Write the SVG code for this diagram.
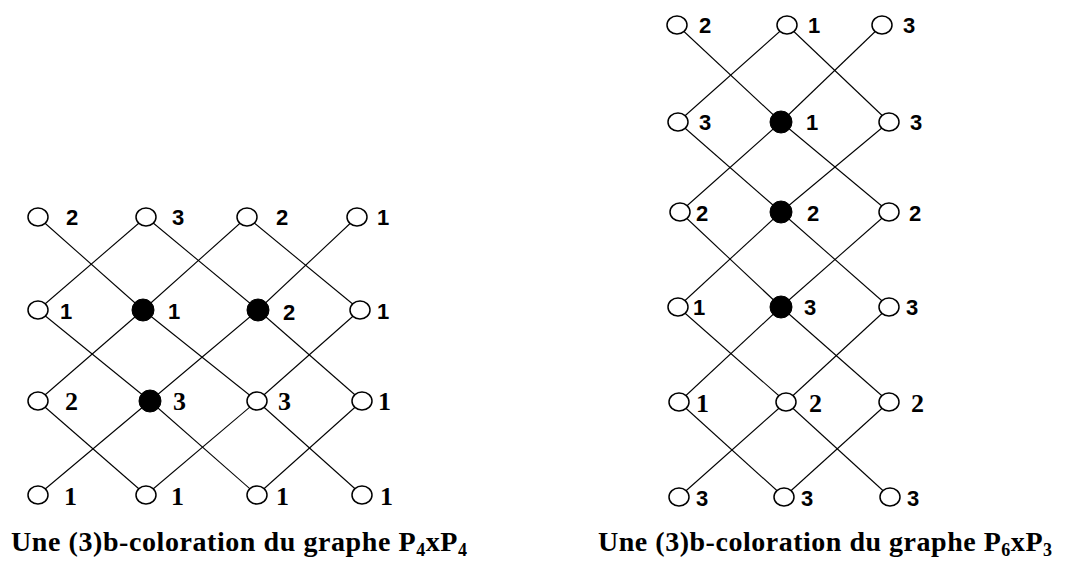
<svg xmlns="http://www.w3.org/2000/svg" width="1066" height="563" viewBox="0 0 1066 563">
<style>
.e{stroke:#000;stroke-width:1.1;fill:none}
.o{fill:#fff;stroke:#000;stroke-width:1.5}
.f{fill:#000;stroke:#000;stroke-width:1}
.ls{font-family:"Liberation Sans",Arial,sans-serif;font-weight:bold;font-size:22px;fill:#000}
.lr{font-family:"Liberation Serif","Times New Roman",serif;font-weight:bold;font-size:26px;fill:#000}
.cap{font-family:"Liberation Serif","Times New Roman",serif;font-weight:bold;font-size:28px;fill:#000}
</style>
<g id="connectors">
<line class="e" x1="38" y1="217" x2="143" y2="310"/>
<line class="e" x1="146" y1="217" x2="38" y2="310"/>
<line class="e" x1="146" y1="217" x2="258" y2="310"/>
<line class="e" x1="247" y1="217" x2="143" y2="310"/>
<line class="e" x1="247" y1="217" x2="360" y2="310"/>
<line class="e" x1="357" y1="217" x2="258" y2="310"/>
<line class="e" x1="38" y1="310" x2="150" y2="401"/>
<line class="e" x1="143" y1="310" x2="38" y2="401"/>
<line class="e" x1="143" y1="310" x2="257" y2="401"/>
<line class="e" x1="258" y1="310" x2="150" y2="401"/>
<line class="e" x1="258" y1="310" x2="362" y2="401"/>
<line class="e" x1="360" y1="310" x2="257" y2="401"/>
<line class="e" x1="38" y1="401" x2="146" y2="495"/>
<line class="e" x1="150" y1="401" x2="38" y2="495"/>
<line class="e" x1="150" y1="401" x2="257" y2="495"/>
<line class="e" x1="257" y1="401" x2="146" y2="495"/>
<line class="e" x1="257" y1="401" x2="362" y2="495"/>
<line class="e" x1="362" y1="401" x2="257" y2="495"/>
<line class="e" x1="677" y1="25" x2="781" y2="122"/>
<line class="e" x1="787" y1="25" x2="678" y2="122"/>
<line class="e" x1="787" y1="25" x2="889" y2="122"/>
<line class="e" x1="882" y1="25" x2="781" y2="122"/>
<line class="e" x1="678" y1="122" x2="781" y2="212"/>
<line class="e" x1="781" y1="122" x2="680" y2="212"/>
<line class="e" x1="781" y1="122" x2="889" y2="212"/>
<line class="e" x1="889" y1="122" x2="781" y2="212"/>
<line class="e" x1="680" y1="212" x2="781" y2="307"/>
<line class="e" x1="781" y1="212" x2="678" y2="307"/>
<line class="e" x1="781" y1="212" x2="889" y2="307"/>
<line class="e" x1="889" y1="212" x2="781" y2="307"/>
<line class="e" x1="678" y1="307" x2="786" y2="402"/>
<line class="e" x1="781" y1="307" x2="679" y2="402"/>
<line class="e" x1="781" y1="307" x2="889" y2="402"/>
<line class="e" x1="889" y1="307" x2="786" y2="402"/>
<line class="e" x1="679" y1="402" x2="784" y2="497"/>
<line class="e" x1="786" y1="402" x2="679" y2="497"/>
<line class="e" x1="786" y1="402" x2="890" y2="497"/>
<line class="e" x1="889" y1="402" x2="784" y2="497"/>
</g>
<g id="a11"><ellipse class="o" cx="38" cy="217" rx="10" ry="9"/><text class="ls" x="66" y="225">2</text></g>
<g id="a12"><ellipse class="o" cx="146" cy="217" rx="10" ry="9"/><text class="ls" x="172" y="225">3</text></g>
<g id="a13"><ellipse class="o" cx="247" cy="217" rx="10" ry="9"/><text class="ls" x="276" y="225">2</text></g>
<g id="a14"><ellipse class="o" cx="357" cy="217" rx="10" ry="9"/><text class="ls" x="377" y="225">1</text></g>
<g id="a21"><ellipse class="o" cx="38" cy="310" rx="10" ry="9"/><text class="ls" x="60" y="319">1</text></g>
<g id="a22"><circle class="f" cx="143" cy="310" r="11"/><text class="ls" x="168" y="319">1</text></g>
<g id="a23"><circle class="f" cx="258" cy="310" r="11"/><text class="ls" x="283" y="320">2</text></g>
<g id="a24"><ellipse class="o" cx="360" cy="310" rx="10" ry="9"/><text class="ls" x="377" y="319">1</text></g>
<g id="a31"><ellipse class="o" cx="38" cy="401" rx="10" ry="9"/><text class="lr" x="65" y="410">2</text></g>
<g id="a32"><circle class="f" cx="150" cy="401" r="11"/><text class="lr" x="173" y="410">3</text></g>
<g id="a33"><ellipse class="o" cx="257" cy="401" rx="10" ry="9"/><text class="lr" x="278" y="410">3</text></g>
<g id="a34"><ellipse class="o" cx="362" cy="401" rx="10" ry="9"/><text class="lr" x="378" y="410">1</text></g>
<g id="a41"><ellipse class="o" cx="38" cy="495" rx="10" ry="9"/><text class="lr" x="64" y="505">1</text></g>
<g id="a42"><ellipse class="o" cx="146" cy="495" rx="10" ry="9"/><text class="lr" x="171" y="505">1</text></g>
<g id="a43"><ellipse class="o" cx="257" cy="495" rx="10" ry="9"/><text class="lr" x="276" y="505">1</text></g>
<g id="a44"><ellipse class="o" cx="362" cy="495" rx="10" ry="9"/><text class="lr" x="380" y="505">1</text></g>
<g id="b11"><ellipse class="o" cx="677" cy="25" rx="10" ry="9"/><text class="ls" x="699" y="33">2</text></g>
<g id="b12"><ellipse class="o" cx="787" cy="25" rx="10" ry="9"/><text class="ls" x="808" y="33">1</text></g>
<g id="b13"><ellipse class="o" cx="882" cy="25" rx="10" ry="9"/><text class="ls" x="903" y="33">3</text></g>
<g id="b21"><ellipse class="o" cx="678" cy="122" rx="10" ry="9"/><text class="ls" x="699" y="130">3</text></g>
<g id="b22"><circle class="f" cx="781" cy="122" r="11"/><text class="ls" x="806" y="130">1</text></g>
<g id="b23"><ellipse class="o" cx="889" cy="122" rx="10" ry="9"/><text class="ls" x="910" y="130">3</text></g>
<g id="b31"><ellipse class="o" cx="680" cy="212" rx="10" ry="9"/><text class="ls" x="696" y="221">2</text></g>
<g id="b32"><circle class="f" cx="781" cy="212" r="11"/><text class="ls" x="807" y="221">2</text></g>
<g id="b33"><ellipse class="o" cx="889" cy="212" rx="10" ry="9"/><text class="ls" x="909" y="221">2</text></g>
<g id="b41"><ellipse class="o" cx="678" cy="307" rx="10" ry="9"/><text class="ls" x="693" y="315">1</text></g>
<g id="b42"><circle class="f" cx="781" cy="307" r="11"/><text class="ls" x="804" y="315">3</text></g>
<g id="b43"><ellipse class="o" cx="889" cy="307" rx="10" ry="9"/><text class="ls" x="906" y="315">3</text></g>
<g id="b51"><ellipse class="o" cx="679" cy="402" rx="10" ry="9"/><text class="lr" x="696" y="412">1</text></g>
<g id="b52"><ellipse class="o" cx="786" cy="402" rx="10" ry="9"/><text class="lr" x="809" y="412">2</text></g>
<g id="b53"><ellipse class="o" cx="889" cy="402" rx="10" ry="9"/><text class="lr" x="911" y="412">2</text></g>
<g id="b61"><ellipse class="o" cx="679" cy="497" rx="10" ry="9"/><text class="ls" x="696" y="506">3</text></g>
<g id="b62"><ellipse class="o" cx="784" cy="497" rx="10" ry="9"/><text class="ls" x="801" y="506">3</text></g>
<g id="b63"><ellipse class="o" cx="890" cy="497" rx="10" ry="9"/><text class="ls" x="907" y="506">3</text></g>
<text class="cap" x="11" y="551" textLength="456">Une (3)b-coloration  du graphe P<tspan font-size="18" dy="5">4</tspan><tspan dy="-5">xP</tspan><tspan font-size="18" dy="5">4</tspan></text>
<text class="cap" x="598" y="551" textLength="454">Une (3)b-coloration du graphe P<tspan font-size="18" dy="5">6</tspan><tspan dy="-5">xP</tspan><tspan font-size="18" dy="5">3</tspan></text>
</svg>
